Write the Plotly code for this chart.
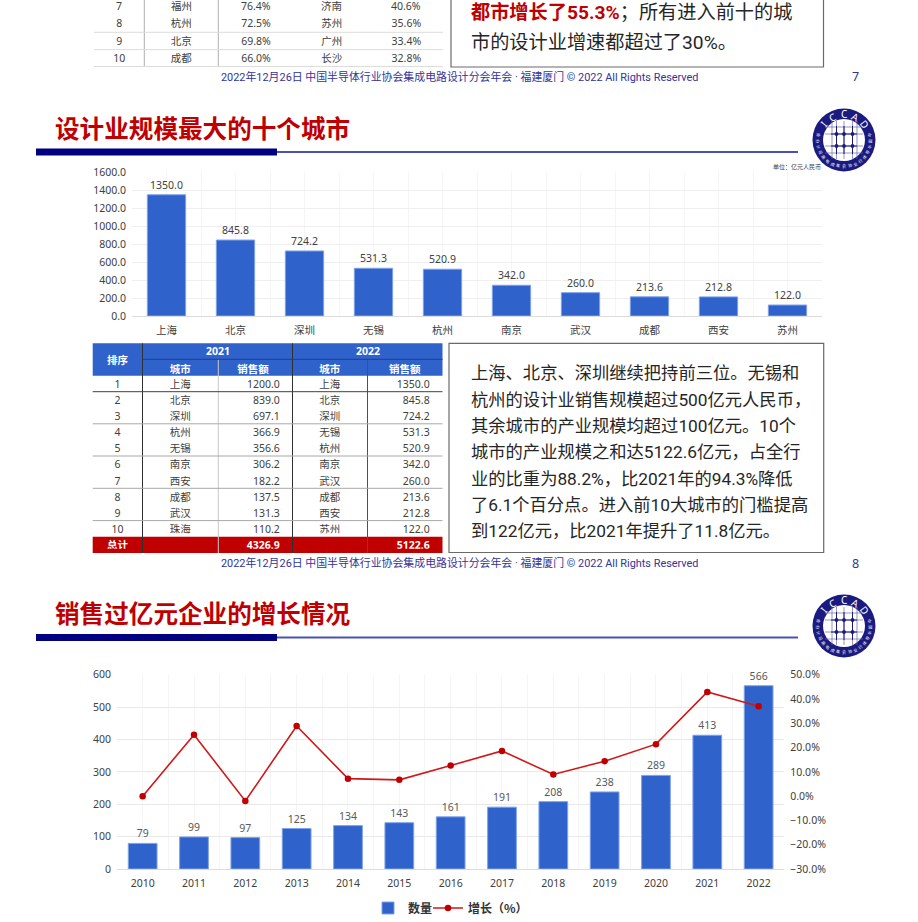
import math
import plotly.graph_objects as go

W, H = 918, 922
FONT = "Noto Sans, Noto Sans CJK SC, sans-serif"
BODY = "Roboto, Noto Sans CJK SC, sans-serif"
CJK = "Noto Sans CJK SC, sans-serif"
BLUE = "#2f63cb"
RED = "#c00000"
TXT = "#404040"

# --- chart 1
cities = ["上海", "北京", "深圳", "无锡", "杭州", "南京", "武汉", "成都", "西安", "苏州"]
scale_2022 = [1350.0, 845.8, 724.2, 531.3, 520.9, 342.0, 260.0, 213.6, 212.8, 122.0]

# --- chart 2
years = ["2010", "2011", "2012", "2013", "2014", "2015", "2016", "2017", "2018", "2019", "2020", "2021", "2022"]
company_count = [79, 99, 97, 125, 134, 143, 161, 191, 208, 238, 289, 413, 566]
growth_pct = [0.0, 25.3, -2.0, 28.9, 7.2, 6.7, 12.6, 18.6, 8.9, 14.4, 21.4, 42.9, 37.0]

# --- top table (slide 7, cut off by the page edge)
top_rank = ["7", "8", "9", "10"]
top_city_a = ["福州", "杭州", "北京", "成都"]
top_rate_a = ["76.4%", "72.5%", "69.8%", "66.0%"]
top_city_b = ["济南", "苏州", "广州", "长沙"]
top_rate_b = ["40.6%", "35.6%", "33.4%", "32.8%"]

# --- middle table (slide 8)
rank = ["1", "2", "3", "4", "5", "6", "7", "8", "9", "10"]
city_2021 = ["上海", "北京", "深圳", "杭州", "无锡", "南京", "西安", "成都", "武汉", "珠海"]
sales_2021 = ["1200.0", "839.0", "697.1", "366.9", "356.6", "306.2", "182.2", "137.5", "131.3", "110.2"]
city_2022 = cities
sales_2022 = ["%.1f" % v for v in scale_2022]
total_row = ["总计", "", "4326.9", "", "5122.6"]
table_header = ["", "城市", "销售额", "城市", "销售额"]

text_slide7 = ["<span style='color:#c00000'><b>都市增长了55.3%</b></span>；所有进入前十的城",
               "市的设计业增速都超过了30%。"]
text_slide8 = ["上海、北京、深圳继续把持前三位。无锡和",
               "杭州的设计业销售规模超过500亿元人民币，",
               "其余城市的产业规模均超过100亿元。10个",
               "城市的产业规模之和达5122.6亿元，占全行",
               "业的比重为88.2%，比2021年的94.3%降低",
               "了6.1个百分点。进入前10大城市的门槛提高",
               "到122亿元，比2021年提升了11.8亿元。"]
footer = "2022年12月26日 中国半导体行业协会集成电路设计分会年会 · 福建厦门 © 2022 All Rights Reserved"
title_8 = "设计业规模最大的十个城市"
title_9 = "销售过亿元企业的增长情况"


def px(x):
    return x / W


def py(y):
    return 1 - y / H


shapes, annos = [], []


def rect(x0, y0, x1, y1, fill=None, line=None, lw=1):
    shapes.append(dict(type="rect", xref="paper", yref="paper", x0=px(x0), x1=px(x1), y0=py(y0), y1=py(y1),
                       fillcolor=fill or "rgba(0,0,0,0)", line=dict(color=line or "rgba(0,0,0,0)", width=lw if line else 0),
                       layer="below"))


def line(x0, y0, x1, y1, color, lw=1):
    shapes.append(dict(type="line", xref="paper", yref="paper", x0=px(x0), x1=px(x1), y0=py(y0), y1=py(y1),
                       line=dict(color=color, width=lw), layer="below"))


def circle(cx, cy, r, fill, ln=None, lw=0):
    shapes.append(dict(type="circle", xref="paper", yref="paper", x0=px(cx - r), x1=px(cx + r), y0=py(cy - r), y1=py(cy + r),
                       fillcolor=fill, line=dict(color=ln or fill, width=lw), layer="below"))


def text(x, y, s, size, color=TXT, anchor="left", fam=FONT, angle=0):
    annos.append(dict(xref="paper", yref="paper", x=px(x), y=py(y), text=s, showarrow=False, xanchor=anchor,
                      yanchor="middle", align=anchor, textangle=angle, font=dict(size=size, color=color, family=fam)))


def logo(cx, cy):
    circle(cx, cy, 31.5, "#1a1a80")
    circle(cx, cy, 21, "white")
    for d in (-12, -7.5, 0, 8.5, 13):
        line(cx + d, cy - 19, cx + d, cy + 19, "#6a6aa8", 0.7)
    for d in (-13, -6, 6, 13):
        line(cx - 19, cy + d, cx + 19, cy + d, "#6a6aa8", 0.7)
    for dx in (-7.5, 0, 8.5):
        line(cx + dx, cy - 14, cx + dx, cy + 14, "#1a1a80", 1)
        for dy in (-6, 6):
            circle(cx + dx, cy + dy, 1.9, "#1a1a80")
    for dy in (-6, 6):
        line(cx - 13, cy + dy, cx + 13, cy + dy, "#1a1a80", 1)
    for i, ch in enumerate("ICCAD"):
        a = math.radians(-52 + i * 26)
        text(cx + 26 * math.sin(a), cy - 26 * math.cos(a), ch, 10, "white", "center", FONT, math.degrees(a))
    ring = "中国半导体行业协会集成电路设计分会"
    for i, ch in enumerate(ring):
        a = math.radians(-100 + i * 200 / (len(ring) - 1))
        text(cx - 26 * math.sin(a), cy + 26 * math.cos(a), ch, 4, "white", "center", CJK, math.degrees(a))


# page furniture ------------------------------------------------------
for title, ty, lb in ((title_8, 126.5, 152), (title_9, 611.5, 637.5)):
    text(53, ty, "<b>%s</b>" % title, 24.6, "#c00000", "left", CJK)
    line(277, lb, 798, lb, "#4a50b4", 2)
    rect(36, lb - 3.5, 277, lb + 3.5, "#000080")
logo(844, 140)
logo(844, 626)
text(771, 166.5, "单位：亿元人民币", 6, "#404040", "left", CJK)
for fy, page in ((77, "7"), (563, "8")):
    text(459, fy, footer, 10.9, "#33339a", "center", BODY)
    text(855, fy, page, 12.5, "#33339a", "center")

# text boxes
rect(451, -5, 823.5, 67, "white", "#6a6a6a", 1.2)
rect(449, 343.3, 823.7, 552.5, "white", "#6a6a6a", 1.2)
for s, y in zip(text_slide7, (12.5, 42.5)):
    text(469, y, s, 19.2, "#262626", "left", BODY)
for s, y in zip(text_slide8, (373.3, 399.6, 425.9, 452.2, 478.5, 504.7, 530.9)):
    text(469, y, s, 17.3, "#262626", "left", BODY)

# middle table frame
rect(92.7, 343.3, 442.5, 375.7, BLUE)
rect(92.7, 536.7, 442.5, 553, RED)
for x, c in ((142.5, "#303030"), (218.3, "#c8c8c8"), (292.5, "#303030"), (367.5, "#505050")):
    top = 359.3 if x in (218.3, 367.5) else 343.3
    line(x, top, x, 553, c, 1)
line(142.5, 359.3, 442.5, 359.3, "#1f3f8a", 1)
line(92.7, 391.7, 442.5, 391.7, "#404040", 1)
for y in (423.8, 456, 488.3, 520.6):
    line(92.7, y, 442.5, y, "#a8a8a8", 1)
text(117.5, 359.5, "<b>排序</b>", 10.5, "white", "center", CJK)
text(217.5, 351.3, "<b>2021</b>", 10.5, "white", "center")
text(367.5, 351.3, "<b>2022</b>", 10.5, "white", "center")

# top table frame
for x in (144.3, 218.3):
    line(x, 0, x, 66.5, "#b0b0b0", 1)
for y in (32.3, 49.6, 66.5):
    line(94, y, 443, y, "#dcdcdc", 1)

# first visible row of the top table is cut by the page edge
for col, x in zip((top_rank, top_city_a, top_rate_a, top_city_b, top_rate_b), (119.3, 181.7, 256, 331.7, 406)):
    text(x, 6, col[0], 10.5, TXT, "center")


def table(columns, widths, x0, x1, y0, y1, h, fcolor=TXT, fweight="normal", header=None, aligns=None, hh=16.4):
    clear = dict(color="rgba(0,0,0,0)")
    hdr = dict(values=header or [""] * len(columns), height=hh if header else 0.1, fill=clear, line=dict(width=0),
               align="center", font=dict(size=10.5, color="white", family=FONT, weight="bold"))
    return go.Table(domain=dict(x=[px(x0), px(x1)], y=[py(y1), py(y0)]), columnwidth=widths, header=hdr,
                    cells=dict(values=columns, height=h, fill=clear, line=dict(width=0),
                               align=aligns or ["center", "center", "right", "center", "right"],
                               font=dict(size=10.5, color=fcolor, family=FONT, weight=fweight)))


top_widths = [50.3, 74, 75.4, 76, 73.3]
top_aligns = ["center"] * 5
mid_widths = [49.8, 75.8, 69.7, 84, 66]
fig = go.Figure()
fig.add_trace(table([c[1:] for c in (top_rank, top_city_a, top_rate_a, top_city_b, top_rate_b)],
                    top_widths, 94, 443, 11.3, 63.3, 17.3, aligns=top_aligns))
fig.add_trace(table([rank, city_2021, sales_2021, city_2022, sales_2022],
                    mid_widths, 92.7, 438, 357.3, 533.5, 16.17, header=table_header, hh=14.4))
fig.add_trace(table([[v] for v in total_row], mid_widths, 92.7, 438, 532.7, 549, 16.17, "white", "bold"))

# charts ---------------------------------------------------------------------
fig.add_trace(go.Bar(x=cities, y=scale_2022, xaxis="x", yaxis="y", width=0.555, showlegend=False,
                     marker=dict(color=BLUE, line=dict(color="#7fa2e8", width=1)),
                     text=["%.1f" % v for v in scale_2022], textposition="outside", cliponaxis=False,
                     textfont=dict(size=10.5, color=TXT, family=FONT)))
fig.add_trace(go.Bar(x=years, y=company_count, xaxis="x2", yaxis="y2", width=0.56, name="<b>数量</b>", legend="legend",
                     marker=dict(color=BLUE, line=dict(color="#7fa2e8", width=1)),
                     text=company_count, textposition="outside", cliponaxis=False,
                     textfont=dict(size=10.5, color="#595959", family=FONT)))
fig.add_trace(go.Scatter(x=years, y=growth_pct, xaxis="x2", yaxis="y3", mode="lines+markers", name="<b>增长（%）</b>",
                         legend="legend2", line=dict(color="#d01818", width=1.6), marker=dict(color=RED, size=6.5), cliponaxis=False))

tickf = dict(size=10.5, color=TXT, family=FONT)
GRID, VGRID = "#e9e9e9", "#f5f5f5"


def xaxis(x0, x1, anchor, n):
    return dict(domain=[px(x0), px(x1)], anchor=anchor, type="category", range=[-0.5, n - 0.5],
                showgrid=True, gridcolor=VGRID, gridwidth=1, tickfont=tickf, ticks="", ticklabelstandoff=4,
                showline=True, linecolor="#dcdcdc", linewidth=1, zeroline=False,
                minor=dict(tickmode="array", tickvals=[i - 0.5 for i in range(n + 1)], showgrid=True, gridcolor=VGRID, gridwidth=1))


def legend_at(x):
    return dict(orientation="h", x=px(x), xanchor="left", y=py(908), yanchor="middle",
                font=dict(size=12, color="#333333", family=CJK), bgcolor="rgba(0,0,0,0)", itemwidth=30)


fig.update_layout(
    width=W, height=H, autosize=False, margin=dict(l=0, r=0, t=0, b=0, autoexpand=False), paper_bgcolor="white",
    plot_bgcolor="rgba(0,0,0,0)", font=dict(family=FONT), shapes=shapes, annotations=annos, bargap=0.45,
    xaxis=xaxis(132, 822, "y", 10),
    yaxis=dict(domain=[py(316), py(172.3)], range=[0, 1600], tickvals=list(range(0, 1601, 200)), ticklabelstandoff=5,
               tickformat=".1f", showgrid=True, gridcolor="#efefef", tickfont=tickf, zeroline=False, ticks="", anchor="x"),
    xaxis2=xaxis(117, 784.3, "y2", 13),
    yaxis2=dict(domain=[py(869), py(674.7)], range=[0, 600], dtick=100, showgrid=True, gridcolor=GRID, gridwidth=1,
                ticklabelstandoff=5, tickfont=tickf, zeroline=False, ticks="", anchor="x2"),
    yaxis3=dict(domain=[py(869), py(674.7)], range=[-30, 50], dtick=10, overlaying="y2", side="right", anchor="x2",
                ticklabelstandoff=5, showgrid=False, zeroline=False, tickfont=tickf, ticksuffix="%", tickformat=".1f", ticks=""),
    legend=legend_at(368),
    legend2=legend_at(428),
)
fig.write_html("out.html", config={"displayModeBar": False},
               post_script="document.body.style.margin='0';document.documentElement.style.overflow='hidden';")
